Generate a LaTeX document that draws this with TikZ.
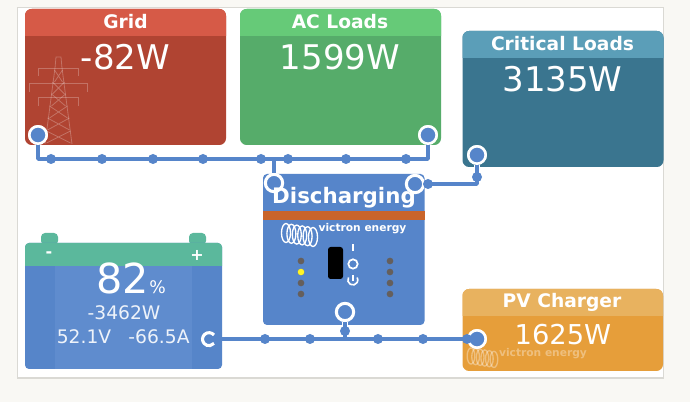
\documentclass[tikz,border=0pt]{standalone}
\usepackage{fontspec}
\setmainfont{DejaVu Sans}
\definecolor{pagebg}{HTML}{F9F8F4}
\definecolor{panelline}{HTML}{DAD9D4}
\definecolor{gridhead}{HTML}{D65A47}
\definecolor{gridbody}{HTML}{B04432}
\definecolor{acheadc}{HTML}{66CA78}
\definecolor{acbody}{HTML}{56AC6A}
\definecolor{crithead}{HTML}{5B9EB8}
\definecolor{critbody}{HTML}{3A758F}
\definecolor{pvhead}{HTML}{E8B25F}
\definecolor{pvbody}{HTML}{E69E3A}
\definecolor{wirec}{HTML}{5685CA}
\definecolor{batside}{HTML}{5685C9}
\definecolor{batmid}{HTML}{5F8CCE}
\definecolor{bathead}{HTML}{5BB89C}
\definecolor{barc}{HTML}{C9642A}
\definecolor{ledoff}{HTML}{655F5C}
\tikzset{
  title/.style={text=white,font=\bfseries\fontsize{14}{14}\selectfont,inner sep=0pt},
  bigval/.style={text=white,font=\fontsize{25.5}{25.5}\selectfont,inner sep=0pt},
  smallval/.style={text=white!90!wirec,font=\fontsize{14}{14}\selectfont,inner sep=0pt},
  logotext/.style={text=white,font=\bfseries\fontsize{8}{8}\selectfont,inner sep=0pt},
  wire/.style={draw=wirec,line width=2.6pt,line join=round},
  casing/.style={draw=white,line width=4.9pt},
  plug/.style={circle,draw=white,fill=wirec,line width=1.9pt,minimum size=13pt,inner sep=0pt},
  ringplug/.style={circle,draw=white,line width=2.3pt,minimum size=13pt,inner sep=0pt},
  dot/.style={circle,fill=wirec,minimum size=7.5pt,inner sep=0pt},
  led/.style={circle,fill=ledoff,minimum size=5pt,inner sep=0pt},
  coil/.pic={
    \foreach \i in {0,...,5}
      \draw[white,line width=1pt] (\i*5.4,\i*0.8) ellipse (4.5 and 9.5);
  }
}
\begin{document}
\begin{tikzpicture}[x=0.75pt,y=-0.75pt]
  \useasboundingbox (0,0) rectangle (690,402);
  \fill[pagebg] (0,0) rectangle (690,402);
  \filldraw[fill=white,draw=panelline,line width=.8pt] (17.5,7.5) rectangle (663.5,378);

  % grid
  \fill[gridbody,rounded corners=5] (25,9) rectangle (226,145);
  \fill[gridhead] (25,36) [rounded corners=5] -- (25,9) -- (226,9) [sharp corners] -- (226,36) -- cycle;
  \begin{scope}[draw=white,opacity=.25,line width=.6pt]
    \draw (45,144) -- (55,68) -- (56,57) -- (61,57) -- (62,68) -- (72,144);
    \draw (38,76) -- (38,68) -- (78,68) -- (78,76);
    \draw (29,92) -- (29,83) -- (87,83) -- (87,92);
    \draw (38,106) -- (38,97) -- (78,97) -- (78,106);
    \foreach \y/\d in {70/4,82/6,94/7,106/9,118/11,131/12}
      \draw (58.5-\d,\y) -- (58.5+\d,\y+12) (58.5+\d,\y) -- (58.5-\d,\y+12);
  \end{scope}
  \node[title] (gridname) at (125.5,22) {Grid};
  \node[bigval] (gridval) at (125.5,57) {-82W};

  % ac loads
  \fill[acbody,rounded corners=5] (240,9) rectangle (441,145);
  \fill[acheadc] (240,36) [rounded corners=5] -- (240,9) -- (441,9) [sharp corners] -- (441,36) -- cycle;
  \node[title] (acname) at (340,22) {AC Loads};
  \node[bigval] (acval) at (340,57) {1599W};

  % critical loads
  \fill[critbody,rounded corners=5] (462.5,31) rectangle (663.5,167);
  \fill[crithead] (462.5,58) [rounded corners=5] -- (462.5,31) -- (663.5,31) [sharp corners] -- (663.5,58) -- cycle;
  \node[title] (critname) at (562.5,44) {Critical Loads};
  \node[bigval] (critval) at (562.5,79) {3135W};

  % inverter
  \fill[wirec,rounded corners=3] (263,174) rectangle (424.5,325);
  \fill[barc] (263,211) rectangle (424.5,220);
  \node[text=white,font=\bfseries\fontsize{16}{16}\selectfont,inner sep=0pt] (invname) at (344,198) {Discharging};
  \pic at (286,233) {coil};
  \node[logotext] (invlogo) at (362.5,229) {victron energy};
  \fill[black,rounded corners=2] (328,247) rectangle (343,279);
  \node[circle,draw=white,line width=1.3pt,minimum size=7pt,inner sep=0pt] (invswitch) at (353,264) {};
  \draw[white,line width=1.2pt] (353,244.5) -- (353,251);
  \draw[white,line width=1.2pt] (348.5,277.5) arc[start angle=210,end angle=-30,radius=5];
  \draw[white,line width=1.2pt] (353,275) -- (353,281);
  \foreach \y [count=\i] in {261,272,283,294} {
    \node[led] (ledl\i) at (301,\y) {};
    \node[led] (ledr\i) at (390,\y) {};
  }
  \node[led,fill=yellow!85!white] (ledon) at (301,272) {};

  % battery
  \fill[bathead,rounded corners=3] (41,233) rectangle (58,245);
  \fill[bathead,rounded corners=3] (189,233) rectangle (206,245);
  \fill[batside,rounded corners=3] (25,243) rectangle (222,369);
  \fill[batmid] (55,266) rectangle (192,369);
  \fill[bathead] (25,266) [rounded corners=3] -- (25,243) -- (222,243) [sharp corners] -- (222,266) -- cycle;
  \node[text=white,font=\bfseries\fontsize{12}{12}\selectfont,inner sep=0pt] (batminus) at (49,255) {-};
  \node[text=white,font=\bfseries\fontsize{12}{12}\selectfont,inner sep=0pt] (batplus) at (197,255) {+};
  \node[text=white,font=\fontsize{31}{31}\selectfont,inner sep=0pt] (batsoc) at (123,278) {82};
  \node[text=white,font=\fontsize{13}{13}\selectfont,inner sep=0pt,right=0pt] (batpct) at (149,287) {\%};
  \node[smallval] (batpower) at (124,313) {-3462W};
  \node[smallval] (batvolt) at (84,337) {52.1V};
  \node[smallval] (batamp) at (159,337) {-66.5A};

  % pv charger
  \fill[pvbody,rounded corners=5] (462.5,289) rectangle (663,371);
  \fill[pvhead] (462.5,316) [rounded corners=5] -- (462.5,289) -- (663,289) [sharp corners] -- (663,316) -- cycle;
  \node[title] (pvname) at (562,302) {PV Charger};
  \node[bigval,font=\fontsize{20.5}{20.5}\selectfont] (pvval) at (563,334.5) {1625W};
  \begin{scope}[opacity=.35]
    \pic[scale=.85] at (471,356) {coil};
    \node[logotext] (pvlogo) at (543,354) {victron energy};
  \end{scope}

  \coordinate (gridbus) at (38,159);
  \coordinate (acbus) at (428,159);
  \coordinate (invbus) at (274,159);
  \coordinate (critbend) at (477,184);
  \coordinate (invdrop) at (345,339);
  \coordinate (batwire) at (219,339);
  \coordinate (gridedge) at (38,145);
  \coordinate (acedge) at (428,145);
  \coordinate (critedge) at (477,167);
  \coordinate (invedge) at (345,325);

  % plugs on the boxes
  \node[plug] (gridplug) at (38,135) {};
  \node[plug] (acplug) at (428,135) {};
  \node[plug] (critplug) at (477,155) {};
  \node[plug] (pvplug) at (477,339) {};
  \node[ringplug] (invtop) at (274,183) {};
  \node[ringplug] (invright) at (415,184) {};
  \node[ringplug] (invbottom) at (345,312) {};

  % white edge of the stems inside the boxes
  \draw[casing] (gridplug) -- (gridedge);
  \draw[casing] (acplug) -- (acedge);
  \draw[casing] (critplug) -- (critedge);
  \draw[casing] (invbottom) -- (invedge);

  % wires
  \draw[wire] (gridplug.center) -- (gridbus) -- (acbus) -- (acplug.center);
  \draw[wire] (invbus) -- (invtop);
  \draw[wire] (invright) -- (critbend) -- (critplug.center);
  \draw[wire] (invbottom) -- (invdrop);
  \draw[wire] (batwire) -- (pvplug.center);
  \node[plug] at (pvplug) {};
  \node[plug] at (critplug) {};
  \node[plug] at (gridplug) {};
  \node[plug] at (acplug) {};
  \draw[white,line width=2.3pt] (214,335) arc[start angle=-40,end angle=-320,radius=6.5];

  % moving dots
  \foreach \x [count=\i] in {51,102,153,203,261,288,346,406}
    \node[dot] (busdot\i) at (\x,159) {};
  \foreach \x [count=\i] in {265,310,378,423,467}
    \node[dot] (batdot\i) at (\x,339) {};
  \node[dot] (invdot) at (345,331) {};
  \node[dot] (critdot1) at (428,184) {};
  \node[dot] (critdot2) at (477,177) {};
\end{tikzpicture}
\end{document}
